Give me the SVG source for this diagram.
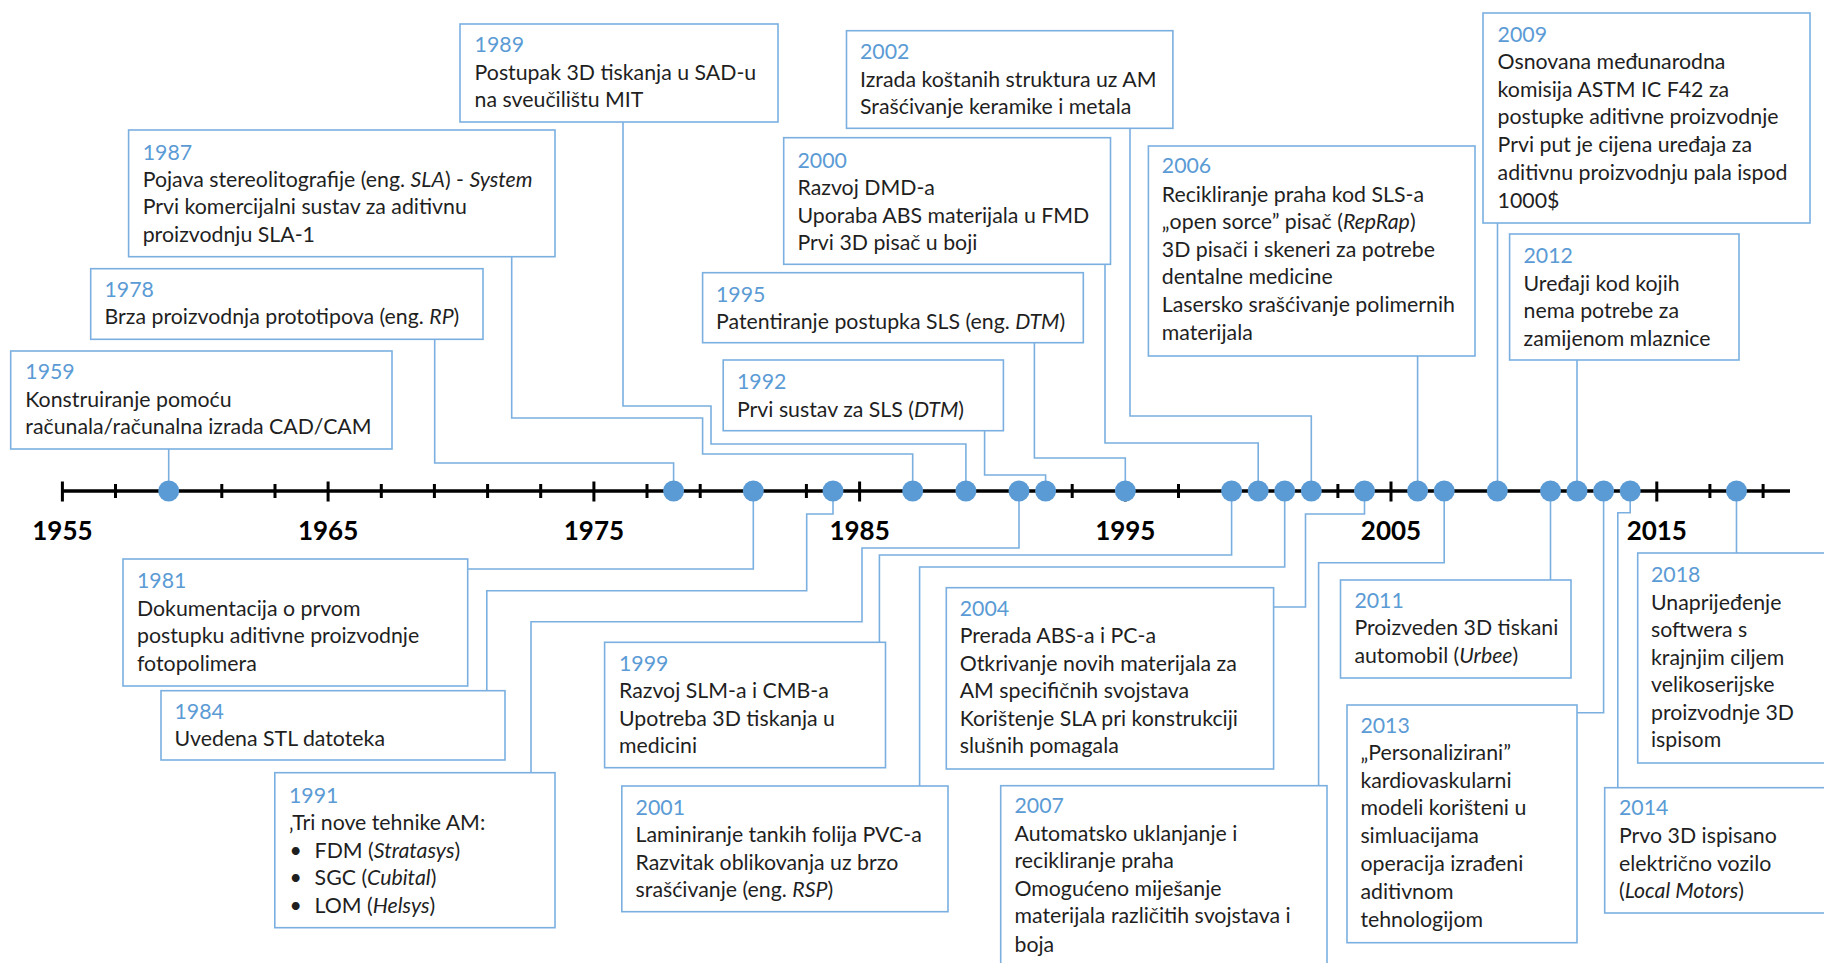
<svg xmlns="http://www.w3.org/2000/svg" width="1824" height="963" viewBox="0 0 1824 963">
<style>
.bg{fill:#ffffff}
.box{fill:#ffffff;stroke:#7aafe0;stroke-width:1.6}
.con{fill:none;stroke:#7aafe0;stroke-width:1.6}
text{font-family:Lato,"Open Sans","Liberation Sans",sans-serif;font-size:21.3px}
.yr{fill:#5b9bd5}
.t{fill:#1f1f1f}
.i{font-style:italic}
.ax{stroke:#000;stroke-width:3.4;fill:none}
.tk{stroke:#000;stroke-width:3;fill:none}
.lab{font-family:Lato,"Liberation Sans",sans-serif;font-size:26px;font-weight:bold;fill:#000;text-anchor:middle}
.dot{fill:#5b9bd5}
</style>
<rect class="bg" x="0" y="0" width="1824" height="963"/>

<g id="connectors">
<path class="con" d="M168.7,449 V491"/>
<path class="con" d="M434.7,339.3 V463 H673.6 V491"/>
<path class="con" d="M511.7,256.7 V418 H702.6 V454 H912.7 V491"/>
<path class="con" d="M623,122 V406 H711 V444 H965.9 V491"/>
<path class="con" d="M984.6,430.7 V475 H1045.6 V491"/>
<path class="con" d="M1034.4,342.7 V458 H1125.3 V491"/>
<path class="con" d="M1105,264.3 V443 H1258.2 V491"/>
<path class="con" d="M1130,128.3 V416 H1311.3 V491"/>
<path class="con" d="M1417.6,356 V491"/>
<path class="con" d="M1497.5,223 V491"/>
<path class="con" d="M1577,360 V491"/>
<path class="con" d="M753.3,491 V569 H467.7"/>
<path class="con" d="M833,491 V514 H806.7 V590.7 H486.8 V690.7"/>
<path class="con" d="M1019,491 V548 H862 V621.7 H531 V772.7"/>
<path class="con" d="M1231.6,491 V555 H879.4 V642.3"/>
<path class="con" d="M1284.7,491 V567 H919.6 V786"/>
<path class="con" d="M1364.5,491 V514 H1305.5 V607 H1273.6"/>
<path class="con" d="M1444.2,491 V562.7 H1318.6 V785.7"/>
<path class="con" d="M1550.5,491 V580"/>
<path class="con" d="M1603.6,491 V712.7 H1577"/>
<path class="con" d="M1630.2,491 V512.7 H1617.8 V787.7"/>
<path class="con" d="M1736.5,491 V553"/>
</g>

<g id="axis">
<path class="ax" d="M62.4,491 H1790"/>
<path class="tk" d="M62.4,481.5 V501.5 M328.1,481.5 V501.5 M593.9,481.5 V501.5 M859.6,481.5 V501.5 M1125.3,481.5 V501.5 M1391,481.5 V501.5 M1656.8,481.5 V501.5"/>
<path class="tk" d="M115.5,484 V498 M168.7,484 V498 M221.8,484 V498 M275,484 V498 M381.3,484 V498 M434.4,484 V498 M487.6,484 V498 M540.7,484 V498 M647,484 V498 M700.2,484 V498 M753.3,484 V498 M806.4,484 V498 M912.7,484 V498 M965.9,484 V498 M1019,484 V498 M1072.2,484 V498 M1178.5,484 V498 M1231.6,484 V498 M1284.7,484 V498 M1337.9,484 V498 M1444.2,484 V498 M1497.3,484 V498 M1550.5,484 V498 M1603.6,484 V498 M1709.9,484 V498 M1763.1,484 V498"/>
<text class="lab" x="62.4" y="540">1955</text>
<text class="lab" x="328.1" y="540">1965</text>
<text class="lab" x="593.9" y="540">1975</text>
<text class="lab" x="859.6" y="540">1985</text>
<text class="lab" x="1125.3" y="540">1995</text>
<text class="lab" x="1391" y="540">2005</text>
<text class="lab" x="1656.8" y="540">2015</text>
</g>

<g id="dots">
<circle class="dot" cx="168.7" cy="491" r="10.5"/>
<circle class="dot" cx="673.6" cy="491" r="10.5"/>
<circle class="dot" cx="753.3" cy="491" r="10.5"/>
<circle class="dot" cx="833" cy="491" r="10.5"/>
<circle class="dot" cx="912.7" cy="491" r="10.5"/>
<circle class="dot" cx="965.9" cy="491" r="10.5"/>
<circle class="dot" cx="1019" cy="491" r="10.5"/>
<circle class="dot" cx="1045.6" cy="491" r="10.5"/>
<circle class="dot" cx="1125.3" cy="491" r="10.5"/>
<circle class="dot" cx="1231.6" cy="491" r="10.5"/>
<circle class="dot" cx="1258.2" cy="491" r="10.5"/>
<circle class="dot" cx="1284.7" cy="491" r="10.5"/>
<circle class="dot" cx="1311.3" cy="491" r="10.5"/>
<circle class="dot" cx="1364.5" cy="491" r="10.5"/>
<circle class="dot" cx="1417.6" cy="491" r="10.5"/>
<circle class="dot" cx="1444.2" cy="491" r="10.5"/>
<circle class="dot" cx="1497.3" cy="491" r="10.5"/>
<circle class="dot" cx="1550.5" cy="491" r="10.5"/>
<circle class="dot" cx="1577" cy="491" r="10.5"/>
<circle class="dot" cx="1603.6" cy="491" r="10.5"/>
<circle class="dot" cx="1630.2" cy="491" r="10.5"/>
<circle class="dot" cx="1736.5" cy="491" r="10.5"/>
</g>

<g id="n1959">
<rect class="box" x="10.7" y="351" width="381.3" height="98"/>
<text class="yr" x="25.3" y="379.3">1959</text>
<text class="t" x="25.3" y="406.7">Konstruiranje pomoću</text>
<text class="t" x="25.3" y="434.3">računala/računalna izrada CAD/CAM</text>
</g>

<g id="n1978">
<rect class="box" x="90.7" y="268.7" width="392.3" height="70.6"/>
<text class="yr" x="104.5" y="296.7">1978</text>
<text class="t" x="104.5" y="324.3">Brza proizvodnja prototipova (eng. <tspan class="i">RP</tspan>)</text>
</g>

<g id="n1987">
<rect class="box" x="128.6" y="130" width="426.4" height="126.7"/>
<text class="yr" x="142.7" y="160">1987</text>
<text class="t" x="142.7" y="187">Pojava stereolitografije (eng. <tspan class="i">SLA</tspan>) - <tspan class="i">System</tspan></text>
<text class="t" x="142.7" y="214.3">Prvi komercijalni sustav za aditivnu</text>
<text class="t" x="142.7" y="242.3">proizvodnju SLA-1</text>
</g>

<g id="n1989">
<rect class="box" x="460" y="24" width="318" height="98"/>
<text class="yr" x="474.6" y="52.3">1989</text>
<text class="t" x="474.6" y="80">Postupak 3D tiskanja u SAD-u</text>
<text class="t" x="474.6" y="107.3">na sveučilištu MIT</text>
</g>

<g id="n1992">
<rect class="box" x="723.2" y="360" width="280.2" height="70.7"/>
<text class="yr" x="737" y="389">1992</text>
<text class="t" x="737" y="416.7">Prvi sustav za SLS (<tspan class="i">DTM</tspan>)</text>
</g>

<g id="n1995">
<rect class="box" x="702.6" y="272.7" width="380.7" height="70"/>
<text class="yr" x="716" y="301.7">1995</text>
<text class="t" x="716" y="329">Patentiranje postupka SLS (eng. <tspan class="i">DTM</tspan>)</text>
</g>

<g id="n2000">
<rect class="box" x="783.7" y="137.7" width="326.8" height="126.6"/>
<text class="yr" x="797.5" y="167.7">2000</text>
<text class="t" x="797.5" y="195">Razvoj DMD-a</text>
<text class="t" x="797.5" y="222.7">Uporaba ABS materijala u FMD</text>
<text class="t" x="797.5" y="250">Prvi 3D pisač u boji</text>
</g>

<g id="n2002">
<rect class="box" x="846.5" y="30.7" width="326.4" height="97.6"/>
<text class="yr" x="860" y="59.3">2002</text>
<text class="t" x="860" y="86.7">Izrada koštanih struktura uz AM</text>
<text class="t" x="860" y="114">Srašćivanje keramike i metala</text>
</g>

<g id="n2006">
<rect class="box" x="1148.4" y="146" width="326.6" height="210"/>
<text class="yr" x="1161.8" y="173.3">2006</text>
<text class="t" x="1161.8" y="201.7">Recikliranje praha kod SLS-a</text>
<text class="t" x="1161.8" y="229.3">„open sorce” pisač (<tspan class="i">RepRap</tspan>)</text>
<text class="t" x="1161.8" y="256.7">3D pisači i skeneri za potrebe</text>
<text class="t" x="1161.8" y="284.3">dentalne medicine</text>
<text class="t" x="1161.8" y="312.3">Lasersko srašćivanje polimernih</text>
<text class="t" x="1161.8" y="340">materijala</text>
</g>

<g id="n2009">
<rect class="box" x="1483" y="13" width="327" height="210"/>
<text class="yr" x="1497.6" y="41.7">2009</text>
<text class="t" x="1497.6" y="69.3">Osnovana međunarodna</text>
<text class="t" x="1497.6" y="96.7">komisija ASTM IC F42 za</text>
<text class="t" x="1497.6" y="124.3">postupke aditivne proizvodnje</text>
<text class="t" x="1497.6" y="151.7">Prvi put je cijena uređaja za</text>
<text class="t" x="1497.6" y="180">aditivnu proizvodnju pala ispod</text>
<text class="t" x="1497.6" y="207.7">1000$</text>
</g>

<g id="n2012">
<rect class="box" x="1509.6" y="234" width="229.4" height="126"/>
<text class="yr" x="1523.5" y="263.3">2012</text>
<text class="t" x="1523.5" y="291">Uređaji kod kojih</text>
<text class="t" x="1523.5" y="318.3">nema potrebe za</text>
<text class="t" x="1523.5" y="345.7">zamijenom mlaznice</text>
</g>

<g id="n1981">
<rect class="box" x="123" y="559" width="344.7" height="127"/>
<text class="yr" x="137" y="588">1981</text>
<text class="t" x="137" y="616">Dokumentacija o prvom</text>
<text class="t" x="137" y="643">postupku aditivne proizvodnje</text>
<text class="t" x="137" y="670.7">fotopolimera</text>
</g>

<g id="n1984">
<rect class="box" x="161" y="690.7" width="344" height="69.3"/>
<text class="yr" x="174.5" y="719">1984</text>
<text class="t" x="174.5" y="746">Uvedena STL datoteka</text>
</g>

<g id="n1991">
<rect class="box" x="274.8" y="772.7" width="280.2" height="155"/>
<text class="yr" x="289" y="802.7">1991</text>
<text class="t" x="289" y="830">‚Tri nove tehnike AM:</text>
<text class="t" x="289.5" y="857.7">•</text>
<text class="t" x="314.6" y="857.7">FDM (<tspan class="i">Stratasys</tspan>)</text>
<text class="t" x="289.5" y="885">•</text>
<text class="t" x="314.6" y="885">SGC (<tspan class="i">Cubital</tspan>)</text>
<text class="t" x="289.5" y="912.7">•</text>
<text class="t" x="314.6" y="912.7">LOM (<tspan class="i">Helsys</tspan>)</text>
</g>

<g id="n1999">
<rect class="box" x="604.6" y="642.3" width="280.9" height="125.4"/>
<text class="yr" x="619" y="670.7">1999</text>
<text class="t" x="619" y="698">Razvoj SLM-a i CMB-a</text>
<text class="t" x="619" y="726">Upotreba 3D tiskanja u</text>
<text class="t" x="619" y="753">medicini</text>
</g>

<g id="n2001">
<rect class="box" x="621.8" y="786" width="326.2" height="125.7"/>
<text class="yr" x="635.6" y="815">2001</text>
<text class="t" x="635.6" y="841.7">Laminiranje tankih folija PVC-a</text>
<text class="t" x="635.6" y="870">Razvitak oblikovanja uz brzo</text>
<text class="t" x="635.6" y="897">srašćivanje (eng. <tspan class="i">RSP</tspan>)</text>
</g>

<g id="n2004">
<rect class="box" x="946.3" y="587.7" width="327.3" height="181.3"/>
<text class="yr" x="959.7" y="615.7">2004</text>
<text class="t" x="959.7" y="643">Prerada ABS-a i PC-a</text>
<text class="t" x="959.7" y="670.7">Otkrivanje novih materijala za</text>
<text class="t" x="959.7" y="698">AM specifičnih svojstava</text>
<text class="t" x="959.7" y="726">Korištenje SLA pri konstrukciji</text>
<text class="t" x="959.7" y="753">slušnih pomagala</text>
</g>

<g id="n2007">
<rect class="box" x="1000.7" y="785.7" width="326.3" height="200"/>
<text class="yr" x="1014.5" y="813">2007</text>
<text class="t" x="1014.5" y="841">Automatsko uklanjanje i</text>
<text class="t" x="1014.5" y="868">recikliranje praha</text>
<text class="t" x="1014.5" y="896">Omogućeno miješanje</text>
<text class="t" x="1014.5" y="923">materijala različitih svojstava i</text>
<text class="t" x="1014.5" y="951.7">boja</text>
</g>

<g id="n2011">
<rect class="box" x="1340.5" y="580" width="230.5" height="98"/>
<text class="yr" x="1354.4" y="608">2011</text>
<text class="t" x="1354.4" y="635">Proizveden 3D tiskani</text>
<text class="t" x="1354.4" y="662.7">automobil (<tspan class="i">Urbee</tspan>)</text>
</g>

<g id="n2013">
<rect class="box" x="1347" y="705" width="230" height="237.7"/>
<text class="yr" x="1360.4" y="733">2013</text>
<text class="t" x="1360.4" y="760">„Personalizirani”</text>
<text class="t" x="1360.4" y="787.7">kardiovaskularni</text>
<text class="t" x="1360.4" y="815">modeli korišteni u</text>
<text class="t" x="1360.4" y="843">simluacijama</text>
<text class="t" x="1360.4" y="871">operacija izrađeni</text>
<text class="t" x="1360.4" y="899">aditivnom</text>
<text class="t" x="1360.4" y="927">tehnologijom</text>
</g>

<g id="n2014">
<rect class="box" x="1604.7" y="787.7" width="240" height="125.3"/>
<text class="yr" x="1619" y="815">2014</text>
<text class="t" x="1619" y="843">Prvo 3D ispisano</text>
<text class="t" x="1619" y="871">električno vozilo</text>
<text class="t" x="1619" y="898">(<tspan class="i">Local Motors</tspan>)</text>
</g>

<g id="n2018">
<rect class="box" x="1637.7" y="553" width="210" height="210"/>
<text class="yr" x="1651" y="581.7">2018</text>
<text class="t" x="1651" y="610">Unaprijeđenje</text>
<text class="t" x="1651" y="637">softwera s</text>
<text class="t" x="1651" y="665">krajnjim ciljem</text>
<text class="t" x="1651" y="692">velikoserijske</text>
<text class="t" x="1651" y="720">proizvodnje 3D</text>
<text class="t" x="1651" y="747">ispisom</text>
</g>
</svg>
